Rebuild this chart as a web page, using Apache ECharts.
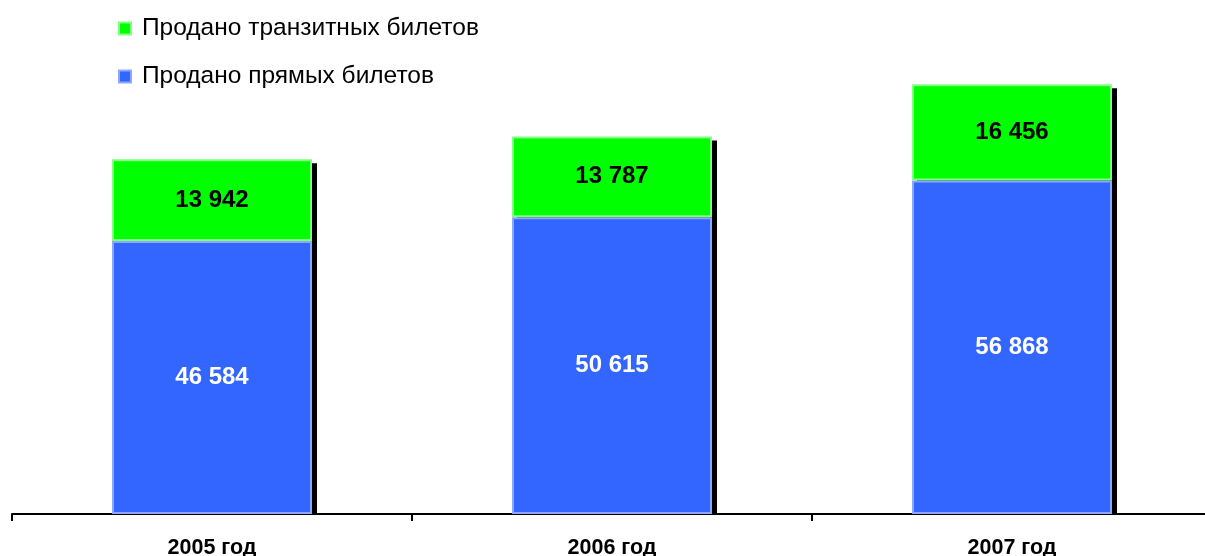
<!DOCTYPE html>
<html><head><meta charset="utf-8">
<script src="https://cdn.jsdelivr.net/npm/echarts@6/dist/echarts.min.js"></script>
<style>html,body{margin:0;padding:0;background:#fff}#c{width:1205px;height:556px}</style>
</head><body><div id="c"></div>
<script>
const categories = ['2005 год', '2006 год', '2007 год'];
const directTickets = [46584, 50615, 56868];
const transitTickets = [13942, 13787, 16456];
const seriesNames = ['Продано прямых билетов', 'Продано транзитных билетов'];

const fmt = v => String(v).replace(/\B(?=(\d{3})+(?!\d))/g, ' ');
const FONT = 'Arial, "Liberation Sans", sans-serif';
const totals = categories.map((c, i) => [i, directTickets[i] + transitTickets[i]]);

const chart = echarts.init(document.getElementById('c'), null, {renderer: 'canvas'});
chart.setOption({
  animation: false,
  backgroundColor: '#fff',
  legend: {
    orient: 'vertical',
    left: 118, top: 16, padding: 0,
    itemWidth: 12, itemHeight: 12, itemGap: 23,
    icon: 'rect',
    data: [seriesNames[1], seriesNames[0]],
    textStyle: {fontFamily: FONT, fontSize: 24.5, color: '#000', lineHeight: 24, padding: [0,0,0,6]}
  },
  grid: {left: 12, width: 1200, top: 45, height: 469, containLabel: false, outerBoundsMode: 'none'},
  xAxis: {
    type: 'category', data: categories, boundaryGap: true,
    axisLine: {lineStyle: {color: '#000', width: 2}},
    axisTick: {show: true, length: 7, lineStyle: {color: '#000', width: 2}},
    axisLabel: {fontFamily: FONT, fontSize: 21.5, fontWeight: 'bold', color: '#000', margin: 23}
  },
  yAxis: {type: 'value', min: 0, max: 80000, show: false, splitLine: {show: false}},
  series: [
    {
      name: 'shadow', type: 'custom', data: totals, z: 1, silent: true, clip: false,
      renderItem: function (params, api) {
        const top = api.coord([api.value(0), api.value(1)]);
        const base = api.coord([api.value(0), 0]);
        const w = api.size([1, 0])[0] * 0.5;
        return {type: 'rect',
          shape: {x: top[0] - w / 2 + 5, y: top[1] + 4, width: w, height: base[1] - top[1] - 4},
          style: {fill: '#000'}};
      }
    },
    {
      name: seriesNames[0], type: 'bar', stack: 't', data: directTickets, barWidth: 200, z: 2,
      itemStyle: {color: '#3366FF', borderColor: '#8DA6FF', borderWidth: 2},
      label: {show: true, position: 'inside', formatter: p => fmt(p.value),
        fontFamily: FONT, fontSize: 24, fontWeight: 'bold', color: '#fff'}
    },
    {
      name: seriesNames[1], type: 'bar', stack: 't', data: transitTickets, barWidth: 200, z: 2,
      itemStyle: {color: '#00FF00', borderColor: '#80FF80', borderWidth: 2},
      label: {show: true, position: 'inside', formatter: p => fmt(p.value),
        fontFamily: FONT, fontSize: 24, fontWeight: 'bold', color: '#000'}
    }
  ]
});
</script></body></html>
